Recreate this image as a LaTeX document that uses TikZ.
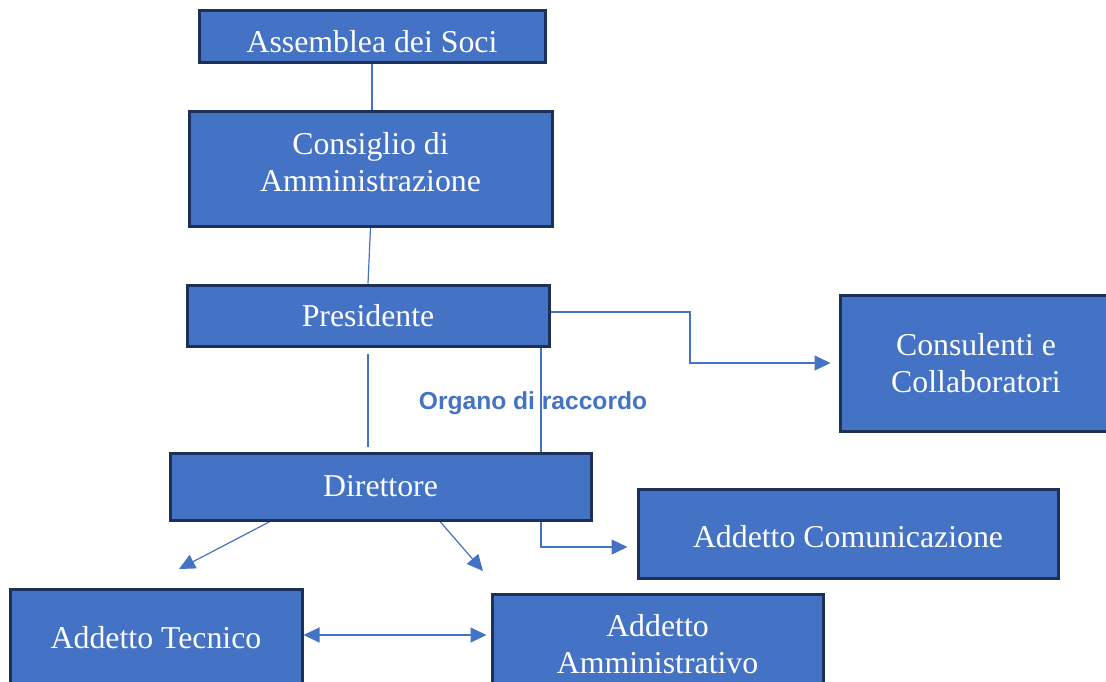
\documentclass[tikz,border=0pt]{standalone}
\usepackage{fontspec}
\setmainfont{Liberation Serif}
\newfontfamily\lblfont{Liberation Sans}
\usetikzlibrary{arrows.meta,calc,backgrounds}
\definecolor{boxblue}{HTML}{4472C4}
\definecolor{boxedge}{HTML}{1D3158}
\begin{document}
\begin{tikzpicture}[x=1pt,y=-1pt,
  box/.style={draw=boxedge, line width=3pt, fill=boxblue, text=white,
    font=\fontsize{31.8}{37}\selectfont, align=center, inner sep=0pt},
  conn/.style={draw=boxblue, line width=1.2pt},
  tip/.style={-{Triangle[length=16pt,width=15pt]}, color=boxblue},
  dtip/.style={{Triangle[length=16pt,width=15pt]}-{Triangle[length=16pt,width=15pt]}, color=boxblue},
  lbl/.style={font=\lblfont\bfseries\fontsize{24.6}{28}\selectfont, text=boxblue}]
\useasboundingbox (0,0) rectangle (1106,681);
\clip (0,0) rectangle (1106,681);

\node[box, minimum width=346pt, minimum height=52pt, text height=32pt, text depth=0pt] (asm) at (372,36) {Assemblea dei Soci};
\node[box, minimum width=363pt, minimum height=115pt, text depth=14pt] (cda) at (370.5,168.5) {Consiglio di\\Amministrazione};
\node[box, minimum width=362pt, minimum height=61pt] (pres) at (368,315.5) {Presidente};
\node[box, minimum width=272pt, minimum height=136pt] (cons) at (976,363) {Consulenti e\\Collaboratori};
\node[box, minimum width=421pt, minimum height=67pt] (dir) at (380.5,486.5) {Direttore};
\node[box, minimum width=420pt, minimum height=89pt, text height=28pt, text depth=0pt] (com) at (848,533.5) {Addetto Comunicazione};
\node[box, minimum width=292pt, minimum height=98pt] (tec) at (156,638) {Addetto Tecnico};
\node[box, minimum width=331pt, minimum height=100pt] (adm) at (657.5,644) {Addetto\\Amministrativo};
\node[lbl] (org) at (533,403) {Organo di raccordo};

\coordinate (tE) at (179,569);
\coordinate (aE) at (483,571);
\coordinate (rac) at (541,340);

\begin{pgfonlayer}{background}
\draw[conn] (asm.south) -- (asm.south |- cda.north);
\draw[conn] (cda.south) -- (pres.north);
\draw[conn] ($(pres.south)+(0,6)$) -- ($(pres.south |- dir.north)+(0,-5)$);
\draw[conn,tip,shorten >=8pt] ([yshift=3.5pt]pres.east) -- (690,312) |- (cons.west);
\draw[conn,tip,shorten >=9pt] (rac) -- (541,547) -- ([yshift=-13.5pt]com.west);
\draw[conn,tip] ([xshift=-110.5pt]dir.south) -- (tE);
\draw[conn,tip] ([xshift=59.5pt]dir.south) -- (aE);
\draw[conn,dtip,shorten >=4pt] ([yshift=3pt]tec.east) -- ([yshift=3pt]tec.east -| adm.west);
\end{pgfonlayer}
\end{tikzpicture}
\end{document}
